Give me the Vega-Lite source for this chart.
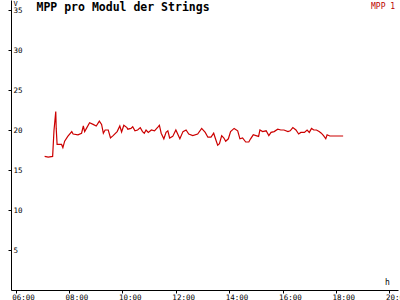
{
  "width": 387,
  "height": 290,
  "autosize": {"type": "none"},
  "padding": {"left": 11, "top": 0, "right": 2, "bottom": 10},
  "title": {
    "text": "MPP pro Modul der Strings",
    "anchor": "start",
    "dx": 29,
    "dy": 10,
    "offset": -4,
    "baseline": "top",
    "font": "DejaVu Sans Mono",
    "fontSize": 11.5,
    "fontWeight": "bold",
    "color": "black"
  },
  "config": {
    "view": {"stroke": null},
    "axis": {
      "domainColor": "black",
      "tickColor": "black",
      "labelColor": "black",
      "labelFont": "DejaVu Sans Mono",
      "labelFontSize": 7.5,
      "titleFont": "DejaVu Sans Mono",
      "titleFontSize": 8,
      "titleFontWeight": "normal",
      "titleColor": "black",
      "grid": false
    }
  },
  "data": {
    "values": [
      {"h": 7.083, "v": 16.7, "s": "MPP 1"},
      {"h": 7.217, "v": 16.6, "s": "MPP 1"},
      {"h": 7.383, "v": 16.7, "s": "MPP 1"},
      {"h": 7.433, "v": 19.9, "s": "MPP 1"},
      {"h": 7.5, "v": 22.3, "s": "MPP 1"},
      {"h": 7.517, "v": 20.2, "s": "MPP 1"},
      {"h": 7.55, "v": 18.2, "s": "MPP 1"},
      {"h": 7.717, "v": 18.2, "s": "MPP 1"},
      {"h": 7.767, "v": 17.8, "s": "MPP 1"},
      {"h": 7.833, "v": 18.6, "s": "MPP 1"},
      {"h": 7.95, "v": 19.2, "s": "MPP 1"},
      {"h": 8.1, "v": 19.8, "s": "MPP 1"},
      {"h": 8.15, "v": 19.5, "s": "MPP 1"},
      {"h": 8.333, "v": 19.4, "s": "MPP 1"},
      {"h": 8.467, "v": 19.6, "s": "MPP 1"},
      {"h": 8.533, "v": 20.5, "s": "MPP 1"},
      {"h": 8.583, "v": 19.8, "s": "MPP 1"},
      {"h": 8.65, "v": 20.2, "s": "MPP 1"},
      {"h": 8.767, "v": 20.9, "s": "MPP 1"},
      {"h": 8.9, "v": 20.7, "s": "MPP 1"},
      {"h": 9.017, "v": 20.5, "s": "MPP 1"},
      {"h": 9.133, "v": 21.1, "s": "MPP 1"},
      {"h": 9.217, "v": 20.7, "s": "MPP 1"},
      {"h": 9.283, "v": 19.6, "s": "MPP 1"},
      {"h": 9.35, "v": 20.0, "s": "MPP 1"},
      {"h": 9.467, "v": 20.0, "s": "MPP 1"},
      {"h": 9.55, "v": 19.0, "s": "MPP 1"},
      {"h": 9.65, "v": 19.3, "s": "MPP 1"},
      {"h": 9.8, "v": 19.8, "s": "MPP 1"},
      {"h": 9.9, "v": 20.5, "s": "MPP 1"},
      {"h": 9.967, "v": 19.75, "s": "MPP 1"},
      {"h": 10.05, "v": 20.6, "s": "MPP 1"},
      {"h": 10.167, "v": 20.3, "s": "MPP 1"},
      {"h": 10.2, "v": 20.1, "s": "MPP 1"},
      {"h": 10.317, "v": 20.2, "s": "MPP 1"},
      {"h": 10.383, "v": 20.4, "s": "MPP 1"},
      {"h": 10.467, "v": 19.9, "s": "MPP 1"},
      {"h": 10.567, "v": 20.0, "s": "MPP 1"},
      {"h": 10.667, "v": 20.3, "s": "MPP 1"},
      {"h": 10.75, "v": 19.8, "s": "MPP 1"},
      {"h": 10.817, "v": 19.6, "s": "MPP 1"},
      {"h": 10.883, "v": 20.0, "s": "MPP 1"},
      {"h": 10.967, "v": 19.7, "s": "MPP 1"},
      {"h": 11.083, "v": 20.0, "s": "MPP 1"},
      {"h": 11.2, "v": 19.9, "s": "MPP 1"},
      {"h": 11.333, "v": 20.4, "s": "MPP 1"},
      {"h": 11.383, "v": 20.6, "s": "MPP 1"},
      {"h": 11.45, "v": 19.6, "s": "MPP 1"},
      {"h": 11.55, "v": 18.9, "s": "MPP 1"},
      {"h": 11.633, "v": 19.7, "s": "MPP 1"},
      {"h": 11.7, "v": 19.9, "s": "MPP 1"},
      {"h": 11.767, "v": 19.0, "s": "MPP 1"},
      {"h": 11.883, "v": 19.2, "s": "MPP 1"},
      {"h": 12.0, "v": 20.0, "s": "MPP 1"},
      {"h": 12.15, "v": 18.9, "s": "MPP 1"},
      {"h": 12.267, "v": 19.8, "s": "MPP 1"},
      {"h": 12.383, "v": 20.0, "s": "MPP 1"},
      {"h": 12.483, "v": 19.5, "s": "MPP 1"},
      {"h": 12.633, "v": 19.3, "s": "MPP 1"},
      {"h": 12.817, "v": 19.5, "s": "MPP 1"},
      {"h": 12.967, "v": 20.2, "s": "MPP 1"},
      {"h": 13.1, "v": 19.7, "s": "MPP 1"},
      {"h": 13.2, "v": 19.1, "s": "MPP 1"},
      {"h": 13.317, "v": 19.1, "s": "MPP 1"},
      {"h": 13.417, "v": 19.6, "s": "MPP 1"},
      {"h": 13.5, "v": 18.75, "s": "MPP 1"},
      {"h": 13.567, "v": 18.1, "s": "MPP 1"},
      {"h": 13.633, "v": 18.3, "s": "MPP 1"},
      {"h": 13.717, "v": 19.3, "s": "MPP 1"},
      {"h": 13.8, "v": 19.0, "s": "MPP 1"},
      {"h": 13.867, "v": 18.6, "s": "MPP 1"},
      {"h": 13.967, "v": 18.9, "s": "MPP 1"},
      {"h": 14.05, "v": 19.8, "s": "MPP 1"},
      {"h": 14.183, "v": 20.2, "s": "MPP 1"},
      {"h": 14.317, "v": 19.9, "s": "MPP 1"},
      {"h": 14.4, "v": 18.9, "s": "MPP 1"},
      {"h": 14.5, "v": 19.0, "s": "MPP 1"},
      {"h": 14.617, "v": 18.5, "s": "MPP 1"},
      {"h": 14.733, "v": 18.5, "s": "MPP 1"},
      {"h": 14.8, "v": 18.9, "s": "MPP 1"},
      {"h": 14.9, "v": 19.4, "s": "MPP 1"},
      {"h": 15.0, "v": 19.3, "s": "MPP 1"},
      {"h": 15.1, "v": 19.2, "s": "MPP 1"},
      {"h": 15.15, "v": 20.0, "s": "MPP 1"},
      {"h": 15.25, "v": 19.8, "s": "MPP 1"},
      {"h": 15.383, "v": 19.9, "s": "MPP 1"},
      {"h": 15.483, "v": 19.3, "s": "MPP 1"},
      {"h": 15.567, "v": 19.7, "s": "MPP 1"},
      {"h": 15.683, "v": 19.8, "s": "MPP 1"},
      {"h": 15.817, "v": 20.1, "s": "MPP 1"},
      {"h": 15.933, "v": 20.0, "s": "MPP 1"},
      {"h": 16.05, "v": 20.0, "s": "MPP 1"},
      {"h": 16.2, "v": 19.8, "s": "MPP 1"},
      {"h": 16.283, "v": 19.9, "s": "MPP 1"},
      {"h": 16.383, "v": 20.3, "s": "MPP 1"},
      {"h": 16.5, "v": 20.0, "s": "MPP 1"},
      {"h": 16.6, "v": 19.5, "s": "MPP 1"},
      {"h": 16.683, "v": 19.7, "s": "MPP 1"},
      {"h": 16.817, "v": 19.7, "s": "MPP 1"},
      {"h": 16.917, "v": 20.0, "s": "MPP 1"},
      {"h": 17.0, "v": 19.7, "s": "MPP 1"},
      {"h": 17.083, "v": 20.2, "s": "MPP 1"},
      {"h": 17.167, "v": 20.0, "s": "MPP 1"},
      {"h": 17.267, "v": 20.0, "s": "MPP 1"},
      {"h": 17.367, "v": 19.8, "s": "MPP 1"},
      {"h": 17.45, "v": 19.6, "s": "MPP 1"},
      {"h": 17.533, "v": 19.3, "s": "MPP 1"},
      {"h": 17.617, "v": 18.9, "s": "MPP 1"},
      {"h": 17.667, "v": 19.4, "s": "MPP 1"},
      {"h": 17.767, "v": 19.25, "s": "MPP 1"},
      {"h": 18.267, "v": 19.25, "s": "MPP 1"}
    ]
  },
  "mark": {"type": "line", "strokeWidth": 1.2},
  "encoding": {
    "x": {
      "field": "h",
      "type": "quantitative",
      "scale": {"domain": [5.823, 20.323], "nice": false, "zero": false},
      "axis": {
        "title": "h",
        "titleAngle": 0,
        "titleX": 376,
        "titleY": -8,
        "titleAlign": "center",
        "titleBaseline": "middle",
        "values": [6, 8, 10, 12, 14, 16, 18, 20],
        "labelExpr": "(datum.value < 10 ? '0' : '') + datum.value + ':00'",
        "tickSize": 3,
        "labelPadding": 0,
        "labelAlign": "left",
        "labelBaseline": "top",
        "labelOffset": -4,
        "labelFlush": false,
        "labelOverlap": false
      }
    },
    "y": {
      "field": "v",
      "type": "quantitative",
      "scale": {"domain": [0, 36.25], "nice": false},
      "axis": {
        "title": "V",
        "titleAngle": 0,
        "titleX": 2,
        "titleY": 3,
        "titleAlign": "left",
        "titleBaseline": "middle",
        "titleFontSize": 7,
        "values": [5, 10, 15, 20, 25, 30, 35],
        "tickSize": 3,
        "labelPadding": -5,
        "labelAlign": "left",
        "labelBaseline": "middle",
        "labelFlush": false,
        "labelOverlap": false
      }
    },
    "color": {
      "field": "s",
      "type": "nominal",
      "scale": {"range": ["#cc0000"]},
      "legend": {
        "title": null,
        "orient": "none",
        "legendX": 344,
        "legendY": 1,
        "symbolOpacity": 0,
        "labelColor": "#bb0000",
        "labelFont": "DejaVu Sans Mono",
        "labelFontSize": 8
      }
    }
  }
}
